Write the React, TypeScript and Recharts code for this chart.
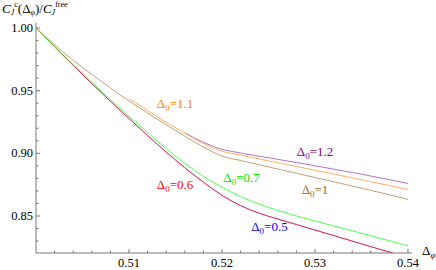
import { LineChart, Line, XAxis, YAxis, ReferenceDot, Customized } from "recharts";

// Δφ values along the curves
const X_FULL = [
  0.5, 0.502, 0.504, 0.506, 0.508, 0.51, 0.512, 0.514, 0.516, 0.518, 0.52,
  0.522, 0.524, 0.526, 0.528, 0.53, 0.532, 0.534, 0.536, 0.538, 0.54,
];
const X_FROM_051 = [
  0.51, 0.512, 0.514, 0.516, 0.518, 0.52, 0.522, 0.524, 0.526, 0.528, 0.53,
  0.532, 0.534, 0.536, 0.538, 0.54,
];
const X_FROM_0516 = [
  0.516, 0.518, 0.52, 0.522, 0.524, 0.526, 0.528, 0.53, 0.532, 0.534, 0.536,
  0.538, 0.54,
];

// C_J^c / C_J^free for each Δ0
const D0_05 = [
  1.0, 0.985, 0.9702, 0.9557, 0.9416, 0.9278, 0.9142, 0.901, 0.8885, 0.877,
  0.8665, 0.8583, 0.8522, 0.8476, 0.8432, 0.8388, 0.8344, 0.83, 0.8256, 0.8212,
  0.8168,
];
const D0_06 = [
  1.0, 0.985, 0.9702, 0.9557, 0.9416, 0.9278, 0.9142, 0.901, 0.8885, 0.877,
  0.8665, 0.8583, 0.8522, 0.8476, 0.8432, 0.8388, 0.8344, 0.83, 0.8256, 0.8212,
  0.8168,
];
const D0_07 = [
  1.0, 0.9853, 0.9708, 0.9567, 0.943, 0.9296, 0.9165, 0.9037, 0.892, 0.8818,
  0.873, 0.8655, 0.8595, 0.8545, 0.85, 0.846, 0.8421, 0.8382, 0.8342, 0.8302,
  0.8263,
];
const D0_10 = [
  1.0, 0.9866, 0.9742, 0.963, 0.9522, 0.9418, 0.9322, 0.9228, 0.9137, 0.905,
  0.8978, 0.8943, 0.8909, 0.8875, 0.8841, 0.8807, 0.8773, 0.8739, 0.8705,
  0.8669, 0.8633,
];
const D0_11 = [
  0.9437, 0.9342, 0.9248, 0.9162, 0.908, 0.9017, 0.8986, 0.8955, 0.8925,
  0.8895, 0.8865, 0.8835, 0.8805, 0.8774, 0.8743, 0.8713,
];
const D0_12 = [
  0.9162, 0.9088, 0.9032, 0.9003, 0.8977, 0.8952, 0.8927, 0.8901, 0.8874,
  0.8847, 0.8819, 0.879, 0.876,
];

const X_TICKS = [
  0.502, 0.504, 0.506, 0.508, 0.51, 0.512, 0.514, 0.516, 0.518, 0.52, 0.522,
  0.524, 0.526, 0.528, 0.53, 0.532, 0.534, 0.536, 0.538, 0.54,
];
const Y_TICKS = [
  0.83, 0.84, 0.85, 0.86, 0.87, 0.88, 0.89, 0.9, 0.91, 0.92, 0.93, 0.94, 0.95,
  0.96, 0.97, 0.98, 0.99, 1.0,
];

const toRows = (xs: number[], ys: number[]) => xs.map((x, i) => ({ x, y: ys[i] }));

const SERIF = '"Liberation Serif", "Times New Roman", serif';
const AXIS = "#777";

const XTick = ({ x, y, payload }: any) => {
  const v = payload.value;
  const major = Math.abs(v * 100 - Math.round(v * 100)) < 1e-6;
  return (
    <g>
      <line x1={x} y1={y} x2={x} y2={y - (major ? 4 : 2.5)} stroke={AXIS} />
      {major && (
        <text x={x} y={y + 14} textAnchor="middle" style={{ fontFamily: SERIF }} fontSize={12.5} fill="#000">
          {v.toFixed(2)}
        </text>
      )}
    </g>
  );
};

const YTick = ({ x, y, payload }: any) => {
  const v = payload.value;
  const major = Math.abs(v * 20 - Math.round(v * 20)) < 1e-6;
  return (
    <g>
      <line x1={x} y1={y} x2={x + (major ? 4 : 2.5)} y2={y} stroke={AXIS} />
      {major && (
        <text x={x - 3} y={y + 4} textAnchor="end" style={{ fontFamily: SERIF }} fontSize={12.5} fill="#000">
          {v.toFixed(2)}
        </text>
      )}
    </g>
  );
};

const CurveLabel = ({ viewBox, value, color }: any) => (
  <text x={viewBox.x} y={viewBox.y} textAnchor="middle" style={{ fontFamily: SERIF }} fontSize={13} fill={color}>
    Δ
    <tspan fontSize={9} dy={3}>0</tspan>
    <tspan dy={-3}>={value}</tspan>
  </text>
);

const Titles = () => (
  <g style={{ fontFamily: SERIF }} fill="#000">
    <text x={2} y={13} fontSize={13}>
      <tspan fontStyle="italic">C</tspan>
      <tspan fontStyle="italic" fontSize={8} dy={2}>J</tspan>
      <tspan fontSize={8} dy={-8}>c</tspan>
      <tspan dy={6}>(Δ</tspan>
      <tspan fontStyle="italic" fontSize={8} dy={2}>φ</tspan>
      <tspan dy={-2}>)/</tspan>
      <tspan fontStyle="italic">C</tspan>
      <tspan fontStyle="italic" fontSize={8} dy={2}>J</tspan>
      <tspan fontSize={8} dy={-8}>free</tspan>
    </text>
    <text x={422} y={255} fontSize={13}>
      Δ<tspan fontStyle="italic" fontSize={9} dy={3}>φ</tspan>
    </text>
  </g>
);

const LABELS = [
  { x: 0.51495, y: 0.9362, value: "1.1", color: "#ff8000" },
  { x: 0.53, y: 0.8979, value: "1.2", color: "#800080" },
  { x: 0.53, y: 0.8675, value: "1", color: "#996633" },
  { x: 0.5221, y: 0.8774, value: "0.7", color: "#00e000" },
  { x: 0.5251, y: 0.8383, value: "0.5", color: "#0000ff" },
  { x: 0.51495, y: 0.8715, value: "0.6", color: "#ff0000" },
];

export default function App() {
  return (
    <div style={{ position: "absolute", left: 0, top: 0, background: "#fff" }}>
      <LineChart width={436} height={270} margin={{ top: 23, right: 24, left: 0, bottom: 0 }}>
        <XAxis
          type="number"
          dataKey="x"
          domain={[0.5, 0.54043]}
          allowDataOverflow
          ticks={X_TICKS}
          interval={0}
          height={17}
          tickSize={0}
          tickMargin={0}
          tick={<XTick />}
          stroke={AXIS}
        />
        <YAxis
          type="number"
          dataKey="y"
          domain={[0.82048, 1.004]}
          allowDataOverflow
          ticks={Y_TICKS}
          interval={0}
          width={36}
          tickSize={0}
          tickMargin={0}
          tick={<YTick />}
          stroke={AXIS}
        />
        <Line type="monotone" data={toRows(X_FULL, D0_05)} dataKey="y" stroke="#0000ff" strokeOpacity={0.3} strokeWidth={0.8} dot={false} isAnimationActive={false} />
        <Line type="monotone" data={toRows(X_FULL, D0_06)} dataKey="y" stroke="#e8103c" strokeWidth={0.9} dot={false} isAnimationActive={false} />
        <Line type="monotone" data={toRows(X_FULL, D0_07)} dataKey="y" stroke="#20ff20" strokeWidth={0.8} dot={false} isAnimationActive={false} />
        <Line type="monotone" data={toRows(X_FROM_0516, D0_12)} dataKey="y" stroke="#a050a8" strokeWidth={0.8} dot={false} isAnimationActive={false} />
        <Line type="monotone" data={toRows(X_FROM_051, D0_11)} dataKey="y" stroke="#ff9a3a" strokeWidth={0.8} dot={false} isAnimationActive={false} />
        <Line type="monotone" data={toRows(X_FULL, D0_10)} dataKey="y" stroke="#b08858" strokeWidth={0.8} dot={false} isAnimationActive={false} />
        {LABELS.map((l) => (
          <ReferenceDot
            key={l.value}
            x={l.x}
            y={l.y}
            r={0}
            stroke="none"
            label={<CurveLabel value={l.value} color={l.color} />}
          />
        ))}
        <Customized component={<Titles />} />
      </LineChart>
    </div>
  );
}
